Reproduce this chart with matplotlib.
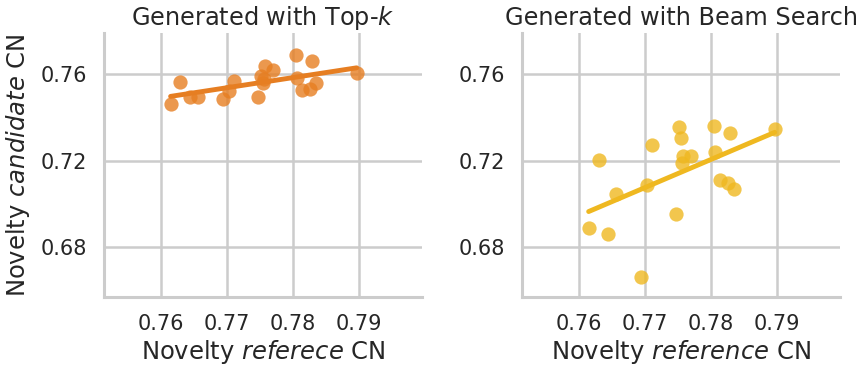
import numpy as np
import matplotlib
matplotlib.use("Agg")
import matplotlib.pyplot as plt

# novelty of the reference (shared by both panels)
ref_novelty = [0.7615, 0.7630, 0.7645, 0.7656, 0.7695, 0.7703, 0.7711, 0.7747,
               0.7752, 0.7755, 0.7756, 0.7758, 0.7770, 0.7805, 0.7806, 0.7814,
               0.7826, 0.7829, 0.7836, 0.7897]

# novelty of candidates generated with top-k
topk_novelty = [0.7461, 0.7562, 0.7494, 0.7495, 0.7483, 0.7521, 0.7569, 0.7492,
                0.7592, 0.7560, 0.7575, 0.7638, 0.7617, 0.7688, 0.7582, 0.7525,
                0.7529, 0.7659, 0.7557, 0.7606]

# novelty of candidates generated with beam search
beam_novelty = [0.6888, 0.7201, 0.6860, 0.7046, 0.6661, 0.7087, 0.7272, 0.6953,
                0.7354, 0.7305, 0.7187, 0.7219, 0.7219, 0.7360, 0.7238, 0.7110,
                0.7097, 0.7329, 0.7067, 0.7346]

xticks = [0.76, 0.77, 0.78, 0.79]
yticks = [0.68, 0.72, 0.76]

plt.rcParams['font.family'] = 'DejaVu Sans'
plt.rcParams['mathtext.fontset'] = 'dejavusans'
text_color = '#262626'
grid_color = '#cccccc'

fig = plt.figure(figsize=(8.65, 3.73), dpi=100)
ax1 = fig.add_axes([0.1202, 0.2038, 0.3676, 0.7077])
ax2 = fig.add_axes([0.6035, 0.2038, 0.3676, 0.7077])

panels = [
    (ax1, topk_novelty, '#e67e22', r'Generated with Top-$\it{k}$', r'Novelty $\it{referece}$ CN'),
    (ax2, beam_novelty, '#efb820', 'Generated with Beam Search', r'Novelty $\it{reference}$ CN'),
]

x = np.array(ref_novelty)
for ax, yvals, color, title, xlabel in panels:
    y = np.array(yvals)
    ax.scatter(x, y, s=105, color=color, alpha=0.8, linewidths=0, zorder=3)
    slope, intercept = np.polyfit(x, y, 1)
    xs = np.linspace(x.min(), x.max(), 50)
    ax.plot(xs, slope * xs + intercept, color=color, lw=3.5, zorder=4,
            solid_capstyle='round')

    ax.set_xlim(0.7514, 0.7996)
    ax.set_ylim(0.6569, 0.7790)
    ax.set_xticks(xticks)
    ax.set_yticks(yticks)
    ax.set_xticklabels(['%.2f' % t for t in xticks])
    ax.set_yticklabels(['%.2f' % t for t in yticks])
    ax.grid(True, color=grid_color, lw=1.8)
    ax.set_axisbelow(True)
    for side in ['top', 'right']:
        ax.spines[side].set_visible(False)
    for side in ['left', 'bottom']:
        ax.spines[side].set_color(grid_color)
        ax.spines[side].set_linewidth(2.2)
    ax.tick_params(length=0, labelsize=15, colors=text_color, pad=12)
    ax.set_title(title, fontsize=17.3, color=text_color, pad=6)
    ax.set_xlabel(xlabel, fontsize=17.5, color=text_color, labelpad=3)

ax1.set_ylabel(r'Novelty $\it{candidate}$ CN', fontsize=17.5, color=text_color, labelpad=6)

fig.savefig('out.png', dpi=100)
